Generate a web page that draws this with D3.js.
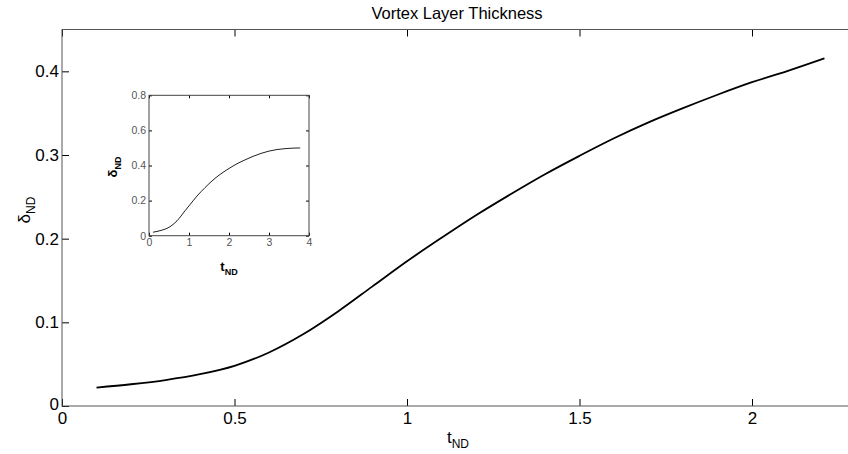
<!DOCTYPE html>
<html>
<head>
<meta charset="utf-8">
<script src="https://cdn.jsdelivr.net/npm/d3@7"></script>
<style>
  body { margin: 0; background: #fff; }
  svg { display: block; font-family: "Liberation Sans", Arial, sans-serif; }
</style>
</head>
<body>
<svg id="chart" width="848" height="454"></svg>
<script>
// main curve
const t_main = [0.1, 0.2, 0.3, 0.4, 0.5, 0.6, 0.7, 0.8, 0.9, 1.0, 1.1, 1.2, 1.3, 1.4, 1.5, 1.6, 1.7, 1.8, 1.9, 2.0, 2.1, 2.21];
const d_main = [0.022, 0.026, 0.031, 0.038, 0.048, 0.064, 0.086, 0.113, 0.143, 0.173, 0.201, 0.228, 0.253, 0.277, 0.299, 0.320, 0.339, 0.356, 0.372, 0.387, 0.400, 0.4155];

// inset curve (longer run)
const t_inset = [0.1, 0.3, 0.5, 0.7, 0.8, 0.9, 1.0, 1.2, 1.4, 1.6, 1.8, 2.0, 2.2, 2.4, 2.6, 2.8, 3.0, 3.2, 3.4, 3.6, 3.78];
const d_inset = [0.02, 0.03, 0.048, 0.085, 0.112, 0.142, 0.170, 0.226, 0.274, 0.317, 0.353, 0.383, 0.410, 0.432, 0.452, 0.469, 0.482, 0.491, 0.496, 0.499, 0.500];

const x_ticks = [0, 0.5, 1, 1.5, 2];
const y_ticks = [0, 0.1, 0.2, 0.3, 0.4];
const inset_x_ticks = [0, 1, 2, 3, 4];
const inset_y_ticks = [0, 0.2, 0.4, 0.6, 0.8];

const svg = d3.select("#chart");
const fmt = d3.format("~g");

// ---- main axes ----
const x = d3.scaleLinear().domain([0, 2.3]).range([62, 855.5]);
const y = d3.scaleLinear().domain([0, 0.45]).range([406, 29.5]);

const main_data = t_main.map((t, i) => ({t: t, d: d_main[i]}));

function styleAxis(g, size, col) {
    g.selectAll(".domain").remove();
    g.selectAll(".tick line").attr("stroke", "#000");
    g.selectAll(".tick text").attr("fill", col).style("font-size", size + "px");
}

svg.append("g")
    .attr("transform", "translate(0,406)")
    .call(d3.axisBottom(x).tickValues(x_ticks).tickSizeInner(-7).tickSizeOuter(0).tickPadding(6).tickFormat(fmt))
    .call(g => styleAxis(g, 17, "#000"));

svg.append("g")
    .attr("transform", "translate(0,29.5)")
    .call(d3.axisTop(x).tickValues(x_ticks).tickSizeInner(-7).tickSizeOuter(0).tickFormat(""))
    .call(g => styleAxis(g, 17, "#000"));

svg.append("g")
    .attr("transform", "translate(62,0)")
    .call(d3.axisLeft(y).tickValues(y_ticks).tickSizeInner(-7).tickSizeOuter(0).tickPadding(3).tickFormat(fmt))
    .call(g => styleAxis(g, 17, "#000"))
    .call(g => g.selectAll(".tick text").filter(d => d === 0).attr("dy", "0.2em"));

// box
svg.append("rect")
    .attr("x", x(0)).attr("y", y(0.45))
    .attr("width", x(2.3) - x(0)).attr("height", y(0) - y(0.45))
    .attr("fill", "none").attr("stroke", "#555").attr("stroke-width", 1);

const line = d3.line().curve(d3.curveMonotoneX)
    .x(d => x(d.t)).y(d => y(d.d));

svg.append("path")
    .datum(main_data)
    .attr("d", line)
    .attr("fill", "none")
    .attr("stroke", "#000")
    .attr("stroke-width", 1.8);

// title
svg.append("text")
    .attr("x", 457).attr("y", 19)
    .attr("text-anchor", "middle")
    .style("font-size", "16.5px")
    .text("Vortex Layer Thickness");

// x label
let xl = svg.append("text")
    .attr("x", 458).attr("y", 443)
    .attr("text-anchor", "middle")
    .style("font-size", "17px");
xl.append("tspan").text("t");
xl.append("tspan").attr("dy", 5).style("font-size", "12px").text("ND");

// y label
let yl = svg.append("text")
    .attr("transform", "translate(30,210) rotate(-90)")
    .attr("text-anchor", "middle")
    .style("font-size", "17px");
yl.append("tspan").text("δ");
yl.append("tspan").attr("dy", 5).style("font-size", "12px").text("ND");

// ---- inset ----
const xi = d3.scaleLinear().domain([0, 4]).range([149, 309]);
const yi = d3.scaleLinear().domain([0, 0.8]).range([235.7, 95.3]);
const inset_data = t_inset.map((t, i) => ({t: t, d: d_inset[i]}));

svg.append("g")
    .attr("transform", "translate(0,235.7)")
    .call(d3.axisBottom(xi).tickValues(inset_x_ticks).tickSizeInner(-3).tickSizeOuter(0).tickPadding(3).tickFormat(fmt))
    .call(g => styleAxis(g, 10.5, "#555"));
svg.append("g")
    .attr("transform", "translate(0,95.3)")
    .call(d3.axisTop(xi).tickValues(inset_x_ticks).tickSizeInner(-3).tickSizeOuter(0).tickFormat(""))
    .call(g => styleAxis(g, 10.5, "#555"));
svg.append("g")
    .attr("transform", "translate(149,0)")
    .call(d3.axisLeft(yi).tickValues(inset_y_ticks).tickSizeInner(-3).tickSizeOuter(0).tickPadding(3).tickFormat(fmt))
    .call(g => styleAxis(g, 10.5, "#555"));
svg.append("g")
    .attr("transform", "translate(309,0)")
    .call(d3.axisRight(yi).tickValues(inset_y_ticks).tickSizeInner(-3).tickSizeOuter(0).tickFormat(""))
    .call(g => styleAxis(g, 10.5, "#555"));

svg.append("rect")
    .attr("x", xi(0)).attr("y", yi(0.8))
    .attr("width", xi(4) - xi(0)).attr("height", yi(0) - yi(0.8))
    .attr("fill", "none").attr("stroke", "#444").attr("stroke-width", 1);

const line_i = d3.line().curve(d3.curveMonotoneX)
    .x(d => xi(d.t)).y(d => yi(d.d));

svg.append("path")
    .datum(inset_data)
    .attr("d", line_i)
    .attr("fill", "none")
    .attr("stroke", "#222")
    .attr("stroke-width", 1);

let xli = svg.append("text")
    .attr("x", 229).attr("y", 271)
    .attr("text-anchor", "middle")
    .style("font-size", "13px").style("font-weight", "bold");
xli.append("tspan").text("t");
xli.append("tspan").attr("dy", 4).style("font-size", "9px").text("ND");

let yli = svg.append("text")
    .attr("transform", "translate(117,167) rotate(-90)")
    .attr("text-anchor", "middle")
    .style("font-size", "13px").style("font-weight", "bold");
yli.append("tspan").text("δ");
yli.append("tspan").attr("dy", 4).style("font-size", "9px").text("ND");
</script>
</body>
</html>
